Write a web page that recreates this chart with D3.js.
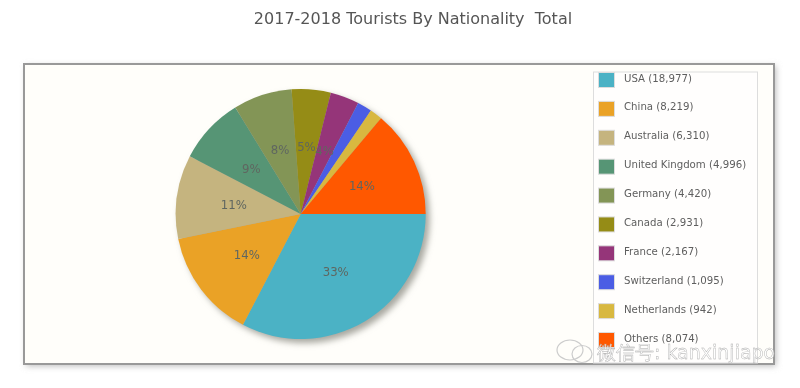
<!DOCTYPE html>
<html>
<head>
<meta charset="utf-8">
<script src="https://cdn.jsdelivr.net/npm/d3@7"></script>
<style>
  html, body { margin: 0; padding: 0; background: #fff; overflow: hidden; }
  text { font-family: "DejaVu Sans", sans-serif; }
</style>
</head>
<body>
<div id="viz"></div>
<script>
var categories = ['USA', 'China', 'Australia', 'United Kingdom', 'Germany', 'Canada', 'France', 'Switzerland', 'Netherlands', 'Others'];
var tourists = [18977, 8219, 6310, 4996, 4420, 2931, 2167, 1095, 942, 8074];
var colors = ['#4bb2c5', '#eaa228', '#c5b47f', '#579575', '#839557', '#958c12', '#953579', '#4b5de4', '#d8b83f', '#ff5800'];
var titleText = '2017-2018 Tourists By Nationality\u00a0\u00a0Total';
var watermarkText = '微信号: kanxinjiapo';

var width = 800, height = 388;
var cx = 300.7, cy = 214, radius = 125;
var rows = categories.map(function(d, i) { return i; });

var svg = d3.select('#viz').append('svg')
    .attr('width', width)
    .attr('height', height);

// soft look of the screenshot
var defs = svg.append('defs');
defs.append('filter').attr('id', 'soft').attr('x', '-5%').attr('y', '-5%').attr('width', '110%').attr('height', '110%')
    .append('feGaussianBlur').attr('stdDeviation', 0.5);
defs.append('filter').attr('id', 'shadow').attr('x', '-10%').attr('y', '-10%').attr('width', '120%').attr('height', '120%')
    .append('feGaussianBlur').attr('stdDeviation', 3);
defs.append('clipPath').attr('id', 'legendClip')
    .append('rect').attr('x', 593).attr('y', 72).attr('width', 165).attr('height', 292);

var root = svg.append('g').attr('filter', 'url(#soft)');

// Title
root.append('text')
    .attr('x', 413)
    .attr('y', 24)
    .attr('text-anchor', 'middle')
    .attr('font-size', 16)
    .attr('fill', '#555')
    .text(titleText);

// Panel
root.append('rect')
    .attr('x', 26).attr('y', 66).attr('width', 750).attr('height', 300)
    .attr('fill', '#bbb')
    .attr('filter', 'url(#shadow)');
root.append('rect')
    .attr('x', 24).attr('y', 64).attr('width', 750).attr('height', 300)
    .attr('fill', '#fffefa')
    .attr('stroke', '#999')
    .attr('stroke-width', 2);

// Pie
var pie = d3.pie().sort(null).startAngle(Math.PI / 2).endAngle(Math.PI * 2.5);
var arc = d3.arc().innerRadius(0).outerRadius(radius);
var labelArc = d3.arc().innerRadius(radius * 0.54).outerRadius(radius * 0.54);
var arcs = pie(tourists);
var total = d3.sum(tourists);

var chart = root.append('g')
    .attr('transform', 'translate(' + cx + ',' + cy + ')');

// Shadow under the pie
chart.append('g')
    .attr('transform', 'translate(4,4)')
    .attr('filter', 'url(#shadow)')
    .selectAll('path')
    .data(arcs)
    .enter().append('path')
    .attr('d', arc)
    .attr('fill', '#a8a8a0');

chart.selectAll('path.slice')
    .data(arcs)
    .enter().append('path')
    .attr('class', 'slice')
    .attr('d', arc)
    .attr('fill', function(d, i) { return colors[i]; });

// Percent labels, small slices get none
chart.selectAll('text')
    .data(arcs.filter(function(d) { return d.value / total > 0.03; }))
    .enter().append('text')
    .attr('transform', function(d) { return 'translate(' + labelArc.centroid(d) + ')'; })
    .attr('text-anchor', 'middle')
    .attr('dy', '0.35em')
    .attr('font-size', 13)
    .attr('fill', '#5f6660')
    .style('font-family', '"DejaVu Sans Condensed", "DejaVu Sans", sans-serif')
    .text(function(d) { return d3.format('.0%')(d.value / total); });

// Legend
var rowScale = d3.scaleLinear().domain([0, 9]).range([80, 340]);

var legend = root.append('g');
legend.append('rect')
    .attr('x', 593.5).attr('y', 72).attr('width', 164).attr('height', 291)
    .attr('fill', '#fffefd')
    .attr('stroke', '#ddd');

var items = legend.append('g')
    .attr('clip-path', 'url(#legendClip)')
    .selectAll('g')
    .data(rows)
    .enter().append('g')
    .attr('transform', function(d) { return 'translate(0,' + rowScale(d) + ')'; });

items.append('rect')
    .attr('x', 598.5).attr('y', -7.5).attr('width', 16).attr('height', 15)
    .attr('fill', function(d) { return colors[d]; })
    .attr('stroke', '#ddd');

items.append('text')
    .attr('x', 624)
    .attr('y', -2)
    .attr('dy', '0.35em')
    .attr('font-size', 10.2)
    .attr('fill', '#5e5e5e')
    .text(function(d) { return categories[d] + ' (' + d3.format(',')(tourists[d]) + ')'; });

// Watermark, wechat bubbles then the account name
var mark = svg.append('g');
mark.selectAll('ellipse')
    .data([[570, 350, 13, 10], [582, 354, 10, 8.5]])
    .enter().append('ellipse')
    .attr('cx', function(d) { return d[0]; })
    .attr('cy', function(d) { return d[1]; })
    .attr('rx', function(d) { return d[2]; })
    .attr('ry', function(d) { return d[3]; })
    .attr('fill', 'none')
    .attr('stroke', '#ccc')
    .attr('stroke-width', 1.2);

mark.append('text')
    .attr('x', 597)
    .attr('y', 359)
    .attr('font-family', '"Noto Sans CJK SC"')
    .attr('font-size', 19)
    .attr('fill', '#fff')
    .attr('stroke', '#aaa')
    .attr('stroke-width', 0.4)
    .attr('fill-opacity', 0.75)
    .text(watermarkText);
</script>
</body>
</html>
